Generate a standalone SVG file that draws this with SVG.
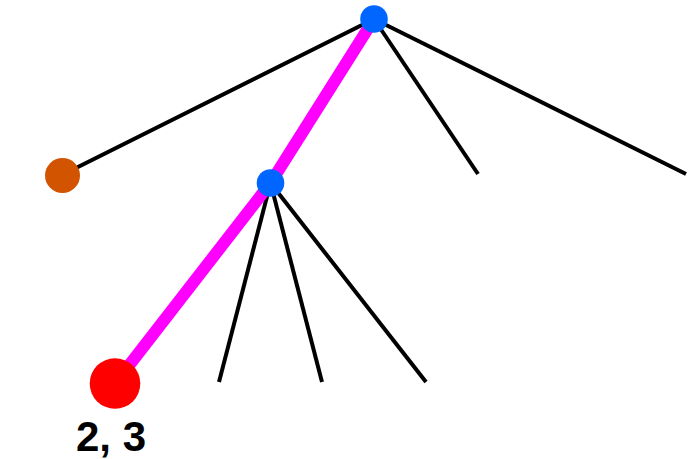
<svg xmlns="http://www.w3.org/2000/svg" width="696" height="459" viewBox="0 0 696 459">
<style>
.edge{stroke:#000;stroke-width:4;fill:none}
.path{stroke:#ff00ff;stroke-width:12;fill:none;stroke-linejoin:round}
.inner{fill:#0066ff}
.label{font-family:"Liberation Sans",Arial,sans-serif;font-weight:bold;font-size:42px;fill:#000}
</style>
<rect width="696" height="459" fill="#fff"/>
<g id="connectors">
<line class="edge" x1="374" y1="19" x2="62" y2="175"/>
<line class="edge" x1="374" y1="19" x2="478" y2="174"/>
<line class="edge" x1="374" y1="19" x2="686" y2="174"/>
<line class="edge" x1="270.5" y1="183" x2="219" y2="382"/>
<line class="edge" x1="270.5" y1="183" x2="322" y2="382"/>
<line class="edge" x1="270.5" y1="183" x2="426" y2="382"/>
<polyline class="path" points="374,19 270.5,183 115,383.5"/>
</g>
<g id="root"><circle class="inner" cx="374" cy="19" r="13.8"/></g>
<g id="mid"><circle class="inner" cx="270.5" cy="183" r="13.8"/></g>
<g id="orange"><circle cx="62.5" cy="175.5" r="17.5" fill="#d35400"/></g>
<g id="red"><circle cx="115" cy="383.5" r="25.3" fill="#ff0000"/><text class="label" x="111" y="451" text-anchor="middle">2, 3</text></g>
</svg>
